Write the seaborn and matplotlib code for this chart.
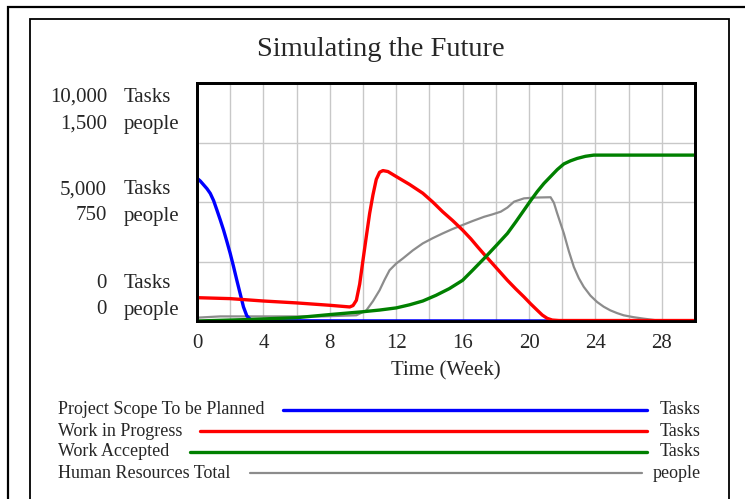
import matplotlib
matplotlib.use("Agg")
import matplotlib.pyplot as plt
from matplotlib.patches import Rectangle
from matplotlib.lines import Line2D
import numpy as np
import pandas as pd
import seaborn as sns

# values (weeks, Tasks / people)
scope_weeks = [0, 0.2, 0.4, 0.6, 0.8, 1.0, 1.2, 1.4, 1.6, 1.8, 2.0, 2.2, 2.4, 2.6, 2.8, 3.0, 3.2, 3.4, 4, 10, 30]
scope_tasks = [6000, 5880, 5720, 5560, 5360, 5060, 4660, 4250, 3820, 3340, 2840, 2290, 1710, 1150, 590, 220, 70, 20, 10, 5, 0]

wip_weeks = [0, 2, 4, 6, 8, 9.2, 9.4, 9.6, 9.8, 10.0, 10.2, 10.4, 10.6, 10.8, 11.0, 11.2, 11.5,
             12.0, 12.8, 13.6, 14.2, 14.8, 15.4, 16.0, 16.5, 16.9, 17.3, 17.7, 18.2, 18.7, 19.2,
             19.7, 20.1, 20.5, 20.8, 21.1, 21.4, 21.8, 30]
wip_tasks = [980, 940, 840, 760, 660, 590, 650, 870, 1550, 2560, 3550, 4520, 5300, 5950, 6250, 6320, 6280,
             6070, 5740, 5370, 5000, 4590, 4220, 3820, 3450, 3120, 2800, 2490, 2100, 1710, 1350,
             1010, 720, 450, 250, 110, 40, 20, 20]

accepted_weeks = [0, 3, 6, 8, 10, 11, 12, 12.8, 13.6, 14.4, 15.2, 16.0, 16.6, 17.3, 18.0, 18.7, 19.2,
                  19.7, 20.1, 20.5, 20.9, 21.3, 21.7, 22.1, 22.5, 22.9, 23.4, 23.9, 30]
accepted_tasks = [0, 60, 140, 270, 390, 460, 550, 680, 840, 1080, 1360, 1710, 2130, 2630, 3150, 3680, 4160,
                  4660, 5060, 5440, 5780, 6070, 6360, 6600, 6730, 6830, 6920, 6970, 6970]

hr_weeks = [0, 1.4, 7.6, 9.6, 10.2, 10.6, 11.0, 11.3, 11.6, 12.0, 12.4, 13.0, 13.6, 14.2, 14.8, 15.4,
            16.0, 16.6, 17.3, 17.8, 18.3, 18.7, 19.1, 19.7, 20.4, 21.3, 21.5, 21.7, 21.9, 22.1, 22.4,
            22.7, 23.0, 23.3, 23.7, 24.1, 24.5, 24.9, 25.3, 25.7, 26.3, 26.9, 27.7, 30]
hr_people = [21, 29, 29, 36, 67, 125, 194, 260, 320, 362, 394, 445, 489, 522, 552, 580,
             605, 630, 657, 672, 689, 715, 752, 773, 778, 780, 745, 678, 615, 552, 440,
             341, 270, 215, 160, 120, 90, 67, 50, 36, 24, 15, 4, 0]

legend_names = ["Project Scope To be Planned", "Work in Progress", "Work Accepted", "Human Resources Total"]
legend_units = ["Tasks", "Tasks", "Tasks", "people"]
legend_colors = ["#0000ff", "#ff0000", "#008000", "#8c8c8c"]

task_ticks = ["10,000", "5,000", "0"]
people_ticks = ["1,500", "750", "0"]

W, H = 745, 499
sns.set_theme(style="white")
plt.rcParams["font.family"] = ["Liberation Serif", "DejaVu Serif"]

fig = plt.figure(figsize=(W / 100, H / 100), dpi=100)
fig.patch.set_facecolor("white")

def px(x, y):
    return x / W, 1 - y / H

# frames (run off the bottom/right edge like the screenshot)
fig.patches.append(Rectangle(px(8, 530), 800 / W, 523 / H, transform=fig.transFigure,
                             fill=False, edgecolor="black", lw=1.6))
fig.patches.append(Rectangle(px(30, 530), 699 / W, 511 / H, transform=fig.transFigure,
                             fill=False, edgecolor="black", lw=1.3))

l, b = px(197, 321)
ax = fig.add_axes([l, b, 498 / W, 238 / H])

sns.lineplot(x=scope_weeks, y=scope_tasks, ax=ax, color=legend_colors[0], lw=2.4)
sns.lineplot(x=wip_weeks, y=wip_tasks, ax=ax, color=legend_colors[1], lw=2.4)
sns.lineplot(x=accepted_weeks, y=accepted_tasks, ax=ax, color=legend_colors[2], lw=2.4)
ax.set_xlim(0, 30)
ax.set_ylim(0, 10000)

# people axis sits underneath; it carries the grid so the grey line is drawn over it
ax2 = ax.twinx()
sns.lineplot(x=hr_weeks, y=hr_people, ax=ax2, color=legend_colors[3], lw=1.6)
ax2.set_ylim(0, 1500)
ax2.set_yticks(np.linspace(0, 1500, 5))
ax2.set_yticklabels([])
ax2.set_ylabel("")
ax2.xaxis.set_visible(True)
ax2.set_xticks(np.arange(0, 31, 2))
ax2.tick_params(length=0, labelbottom=False, labeltop=False, labelleft=False, labelright=False)
ax2.grid(True, color="#c8c8c8", lw=1)
ax2.set_axisbelow(True)
ax.set_zorder(ax2.get_zorder() + 1)
ax.patch.set_visible(False)
ax2.patch.set_facecolor("white")

ax.set_xticks(np.arange(0, 31, 2))
ax.set_xticklabels([str(t) if t % 4 == 0 and t < 30 else "" for t in range(0, 31, 2)], fontsize=15)
ax.set_yticks([])
ax.tick_params(length=0, pad=9)
ax.grid(False)
for a in (ax, ax2):
    for s in a.spines.values():
        s.set_color("black")
        s.set_linewidth(2)
ax.set_xlabel("Time (Week)", fontsize=15, labelpad=6)
ax.set_ylabel("")

# stacked y labels (Tasks / people)
label_rows = [(97, 124), (190, 216), (283, 310)]
for (yt, yp), tt, pt in zip(label_rows, task_ticks, people_ticks):
    for y, num, unit in ((yt, tt, "Tasks"), (yp, pt, "people")):
        fig.text(*px(107, y), num, ha="right", va="center", fontsize=15)
        fig.text(*px(124, y), unit, ha="left", va="center", fontsize=15)

fig.text(*px(381, 50), "Simulating the Future", ha="center", va="center", fontsize=20.5)

# legend rows
line_starts = [283, 200, 190, 250]
line_ends = [647, 647, 647, 642]
for i, (name, unit, c) in enumerate(zip(legend_names, legend_units, legend_colors)):
    y = 410 + i * 21
    fig.text(*px(58, y), name, ha="left", va="center", fontsize=13)
    fig.text(*px(701, y), unit, ha="right", va="center", fontsize=13)
    x0, yy = px(line_starts[i], y)
    x1, _ = px(line_ends[i], y)
    fig.lines.append(Line2D([x0, x1], [yy, yy], transform=fig.transFigure, color=c,
                            lw=2.4 if i < 3 else 1.6, solid_capstyle="round"))

fig.savefig("out.png", dpi=100)
